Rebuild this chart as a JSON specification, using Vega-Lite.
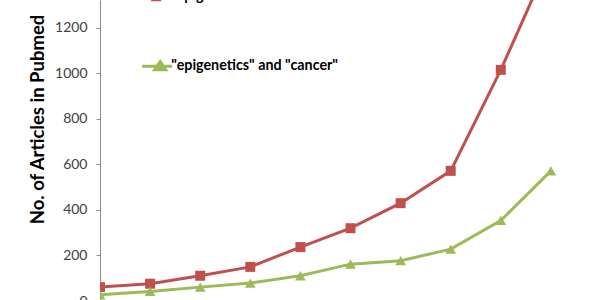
{
  "$schema": "https://vega.github.io/schema/vega-lite/v6.json",
  "autosize": {"type": "none"},
  "width": 501,
  "height": 301,
  "padding": {"left": 100, "top": 0, "right": 0, "bottom": 0},
  "background": "white",
  "config": {"view": {"stroke": null}, "font": "Lato"},
  "data": {"values": [
    {"year": 2002, "series": "\"epigenetics\"", "count": 61},
    {"year": 2003, "series": "\"epigenetics\"", "count": 76},
    {"year": 2004, "series": "\"epigenetics\"", "count": 111},
    {"year": 2005, "series": "\"epigenetics\"", "count": 150},
    {"year": 2006, "series": "\"epigenetics\"", "count": 237},
    {"year": 2007, "series": "\"epigenetics\"", "count": 320},
    {"year": 2008, "series": "\"epigenetics\"", "count": 430},
    {"year": 2009, "series": "\"epigenetics\"", "count": 572},
    {"year": 2010, "series": "\"epigenetics\"", "count": 1016},
    {"year": 2011, "series": "\"epigenetics\"", "count": 1510},
    {"year": 2002, "series": "\"epigenetics\" and \"cancer\"", "count": 27},
    {"year": 2003, "series": "\"epigenetics\" and \"cancer\"", "count": 42},
    {"year": 2004, "series": "\"epigenetics\" and \"cancer\"", "count": 61},
    {"year": 2005, "series": "\"epigenetics\" and \"cancer\"", "count": 79},
    {"year": 2006, "series": "\"epigenetics\" and \"cancer\"", "count": 111},
    {"year": 2007, "series": "\"epigenetics\" and \"cancer\"", "count": 162},
    {"year": 2008, "series": "\"epigenetics\" and \"cancer\"", "count": 177},
    {"year": 2009, "series": "\"epigenetics\" and \"cancer\"", "count": 228},
    {"year": 2010, "series": "\"epigenetics\" and \"cancer\"", "count": 354},
    {"year": 2011, "series": "\"epigenetics\" and \"cancer\"", "count": 572}
  ]},
  "encoding": {
    "x": {"field": "year", "type": "quantitative", "scale": {"domain": [2002, 2012], "nice": false, "zero": false}, "axis": null},
    "y": {"field": "count", "type": "quantitative", "scale": {"domain": [0, 1323], "nice": false},
      "axis": {"title": "No. of Articles in Pubmed", "values": [0, 200, 400, 600, 800, 1000, 1200], "format": "d", "grid": false,
        "domainColor": "#8c8c8c", "tickColor": "#8c8c8c", "tickSize": 4, "labelPadding": 9,
        "labelFont": "Lato", "labelFontSize": 14, "labelColor": "#404040",
        "titleFont": "Lato", "titleFontSize": 18.5, "titleFontWeight": "bold", "titleColor": "#000000",
        "titleX": -63, "titleY": 119, "titleAngle": 270, "titleBaseline": "middle", "titleAlign": "center"}}
  },
  "layer": [
    {"mark": {"type": "line", "strokeWidth": 3, "clip": true},
      "encoding": {"color": {"field": "series", "type": "nominal",
        "scale": {"domain": ["\"epigenetics\"", "\"epigenetics\" and \"cancer\""], "range": ["#C0504D", "#9BBB59"]},
        "legend": {"orient": "none", "legendX": 50, "legendY": -11, "direction": "vertical", "title": null,
          "padding": 0, "rowPadding": 49, "labelFont": "Lato", "labelFontSize": 14.3, "labelFontWeight": "bold",
          "labelColor": "#000000", "labelLimit": 0, "labelOffset": 7, "symbolSize": 100, "symbolStrokeWidth": 3,
          "encode": {"symbols": {"update": {
            "shape": {"signal": "datum.index === 0 ? 'M-3,0H3M-0.9,-0.7H0.5V0.7H-0.9Z' : 'M-3,0H3M0.6,-0.9L1.7,0.7L-0.5,0.7Z'"},
            "fill": {"scale": "color", "field": "value"},
            "stroke": {"scale": "color", "field": "value"},
            "strokeWidth": {"value": 3},
            "opacity": {"value": 1}
          }}}}}}},
    {"transform": [{"filter": "datum.series === '\"epigenetics\"'"}],
      "mark": {"type": "point", "shape": "square", "filled": true, "opacity": 1, "size": 100, "color": "#C0504D", "clip": true}},
    {"transform": [{"filter": "datum.series !== '\"epigenetics\"'"}],
      "mark": {"type": "point", "shape": "triangle-up", "filled": true, "opacity": 1, "size": 115, "color": "#9BBB59", "clip": true}}
  ]
}
